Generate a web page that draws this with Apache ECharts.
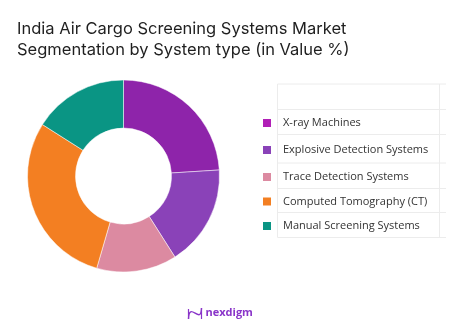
<!DOCTYPE html>
<html><head><meta charset="utf-8">
<script src="https://cdn.jsdelivr.net/npm/echarts@6/dist/echarts.min.js"></script>
<style>html,body{margin:0;padding:0;background:#fff}#c{width:467px;height:328px}</style>
</head><body><div id="c"></div>
<script>
const categories = ['X-ray Machines','Explosive Detection Systems','Trace Detection Systems','Computed Tomography (CT)','Manual Screening Systems'];
const values = [24, 17, 13.5, 29.5, 16];
const sliceColors = ['#8E24AA','#8A42B8','#DC8AA1','#F37F22','#0A9584'];
const legendColors = ['#B01FB6','#8A42B8','#DC8AA1','#F37F22','#0A9584'];
const legendRowCenters = [122, 149, 176, 200.5, 225];

const chart = echarts.init(document.getElementById('c'), null, {renderer:'canvas'});

const legends = categories.map((name, i) => ({
  orient: 'vertical',
  left: 261,
  top: legendRowCenters[i] - 5,
  padding: 0,
  itemWidth: 10,
  itemHeight: 10,
  icon: 'rect',
  selectedMode: false,
  data: [{name: name, itemStyle: {color: legendColors[i]}}],
  textStyle: {fontFamily: 'Open Sans', fontSize: 11, color: '#333', padding: [0,0,0,6]}
}));

const hLines = [84, 109.5, 134.5, 163, 188.5, 212.5, 237.5];
const graphics = [];
hLines.forEach(y => graphics.push({type:'line', silent:true, shape:{x1:277.5, y1:y, x2:446, y2:y}, style:{stroke:'#ececec', lineWidth:1}}));
[277.5, 439.5].forEach(x => graphics.push({type:'line', silent:true, shape:{x1:x, y1:84, x2:x, y2:237.5}, style:{stroke:'#ececec', lineWidth:1}}));
graphics.push({type:'bezierCurve', silent:true, shape:{x1:188.5, y1:319, x2:201.5, y2:308, cpx1:189, cpy1:300, cpx2:201, cpy2:326}, style:{stroke:'#8A35C9', lineWidth:1.4, fill:null}});
graphics.push({type:'line', silent:true, shape:{x1:188.5, y1:309, x2:188.5, y2:319}, style:{stroke:'#8A35C9', lineWidth:1.2}});
graphics.push({type:'line', silent:true, shape:{x1:201.5, y1:308, x2:201.5, y2:319}, style:{stroke:'#8A35C9', lineWidth:1.2}});
graphics.push({type:'text', silent:true, left:205.5, top:307.5, style:{text:'nexdigm', fill:'#8A35C9', font:'bold 11px "Open Sans"'}});

chart.setOption({
  animation: false,
  title: {
    text: 'India Air Cargo Screening Systems Market\nSegmentation by System type (in Value %)',
    left: 17, top: 18.5, padding: 0,
    textStyle: {fontFamily: 'Inter', fontSize: 16.5, fontWeight: 400, color: '#1f1f1f', lineHeight: 21}
  },
  legend: legends,
  graphic: graphics,
  series: [{
    type: 'pie',
    center: [123.5, 176],
    radius: [48, 96],
    startAngle: 90,
    clockwise: true,
    label: {show: false},
    labelLine: {show: false},
    itemStyle: {borderColor: '#fff', borderWidth: 0.5},
    data: categories.map((n, i) => ({name: n, value: values[i], itemStyle: {color: sliceColors[i]}}))
  }]
});
</script></body></html>
